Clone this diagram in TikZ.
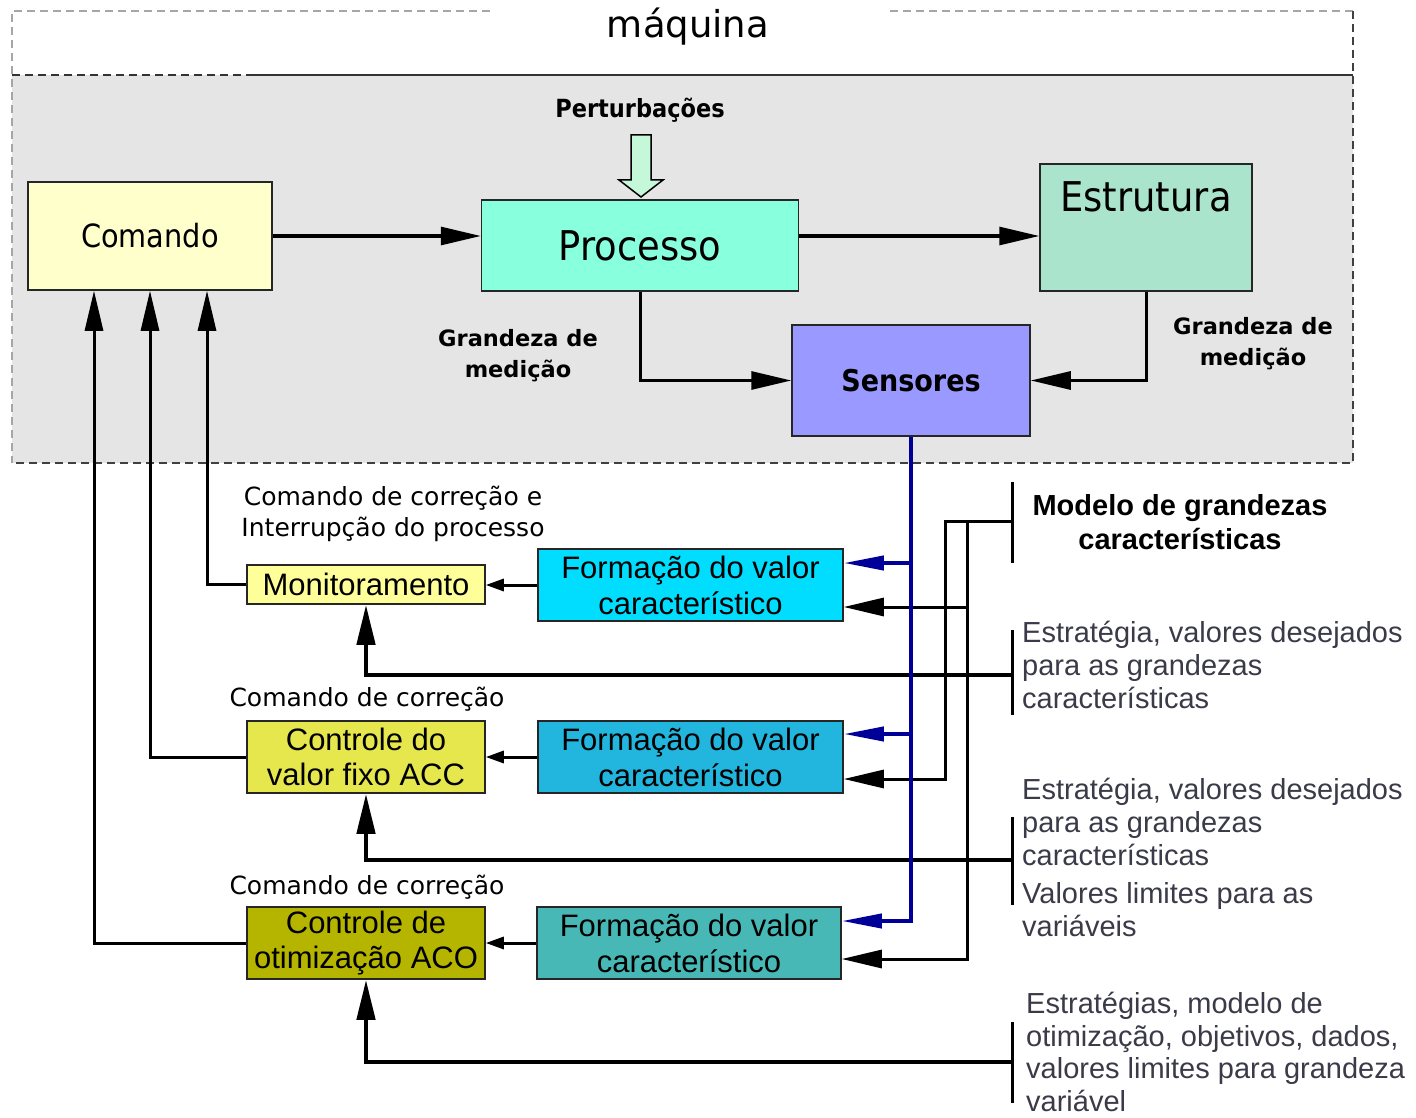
\documentclass[tikz,border=0pt]{standalone}
\usepackage{fontspec}
\setmainfont{DejaVu Sans}
\newfontfamily\condfont{DejaVu Sans Condensed}
\newfontfamily\arialfont{Liberation Sans}
\usetikzlibrary{arrows.meta}

\definecolor{cmdfill}{HTML}{FFFFCC}
\definecolor{procfill}{HTML}{88FFDD}
\definecolor{estrfill}{HTML}{AAE4CC}
\definecolor{sensfill}{HTML}{9999FF}
\definecolor{monfill}{HTML}{FFFF99}
\definecolor{accfill}{HTML}{E6E64D}
\definecolor{acofill}{HTML}{B5B500}
\definecolor{fvAfill}{HTML}{00DDFF}
\definecolor{fvBfill}{HTML}{22B5DD}
\definecolor{fvCfill}{HTML}{47B8B6}
\definecolor{pertfill}{HTML}{C4F8D8}
\definecolor{busblue}{HTML}{000099}
\definecolor{notegray}{HTML}{3A3A48}

\begin{document}
\begin{tikzpicture}[x=1pt,y=-1pt,
  box/.style={draw=black!85,line width=1.5pt,inner sep=0pt,align=center},
  lowbox/.style={box,minimum width=238pt,minimum height=72pt,font=\arialfont\fontsize{31}{35}\selectfont},
  fvbox/.style={box,minimum width=305pt,minimum height=72pt,font=\arialfont\fontsize{31}{36}\selectfont},
  frame/.style={line width=1.3pt,dash pattern=on 8pt off 5pt},
  mainarrow/.style={line width=3pt,-{Triangle[length=40pt,width=18pt]}},
  fatarrow/.style={line width=4.5pt,-{Triangle[length=40pt,width=18pt]}},
  shortarrow/.style={line width=3pt,-{Triangle[length=18pt,width=12pt]}},
  busline/.style={line width=4pt,busblue,-{Triangle[length=40pt,width=14pt]}},
  bar/.style={line width=3pt},
  measlbl/.style={font=\bfseries\fontsize{22.5}{31}\selectfont,align=center},
  corrlbl/.style={font=\fontsize{25}{31}\selectfont,align=center},
  note/.style={anchor=north west,inner sep=0pt,align=left,text=notegray,font=\arialfont\fontsize{29}{33}\selectfont}]
  \useasboundingbox (0,0) rectangle (1416,1118);

  % machine frame
  \fill[gray!20] (12,75) rectangle (1353,463);
  \draw[frame,gray!70] (490,11) -- (12,11) -- (12,463);
  \draw[frame,gray!70] (890,11) -- (1353,11);
  \draw[frame,black!75] (1353,11) -- (1353,463) -- (12,463);
  \draw[frame,black!80] (12,75) -- (250,75);
  \draw[line width=1.5pt,black!80] (250,75) -- (1353,75);
  \node[font=\fontsize{37}{44}\selectfont] (title) at (688,27) {máquina};

  % upper loop
  \node[box,fill=cmdfill,minimum width=244pt,minimum height=108pt,
        font=\condfont\fontsize{32}{38}\selectfont] (cmd) at (150,236) {Comando};
  \node[box,fill=procfill,minimum width=317pt,minimum height=91pt,
        font=\condfont\fontsize{41}{48}\selectfont] (proc) at (640,245.5) {Processo};
  \node[box,fill=estrfill,minimum width=212pt,minimum height=127pt,
        label={[anchor=north,inner sep=0pt,yshift=-18pt,font=\condfont\fontsize{41}{48}\selectfont]north:Estrutura}] (estr) at (1146,227.5) {};
  \node[box,fill=sensfill,minimum width=238pt,minimum height=111pt,
        font=\condfont\bfseries\fontsize{30}{36}\selectfont] (sens) at (911,380.5) {Sensores};

  \node[font=\condfont\bfseries\fontsize{25}{30}\selectfont] (pert) at (640,110) {Perturbações};
  \draw[line width=1.5pt,fill=pertfill] (631,135) -- (651,135) -- (651,180) -- (663,180)
     -- (641,197) -- (619,180) -- (631,180) -- cycle;
  \node[measlbl] (gm1) at (518,356) {Grandeza de\\medição};
  \node[measlbl] (gm2) at (1253,344) {Grandeza de\\medição};

  \draw[mainarrow] (cmd.east) -- (cmd.east -| proc.west);
  \draw[mainarrow] (proc.east |- cmd.east) -- (cmd.east -| estr.west);
  \draw[mainarrow] (proc.south) |- (sens.west);
  \draw[mainarrow] (estr.south) |- (sens.east);

  % lower control levels
  \node[box,fill=monfill,minimum width=238pt,minimum height=39pt,
        font=\arialfont\fontsize{31}{35}\selectfont] (mon) at (366,584.5) {Monitoramento};
  \node[fvbox,fill=fvAfill] (fv1) at (690.5,585) {Formação do valor\\característico};
  \node[lowbox,fill=accfill] (acc) at (366,757) {Controle do\\valor fixo ACC};
  \node[fvbox,fill=fvBfill] (fv2) at (690.5,757) {Formação do valor\\característico};
  \node[lowbox,fill=acofill] (aco) at (366,943) {Controle de\\otimização ACO};
  \node[fvbox,fill=fvCfill,minimum width=304pt] (fv3) at (689,943) {Formação do valor\\característico};

  \node[corrlbl] (cl1) at (393,514) {Comando de correção e\\Interrupção do processo};
  \node[corrlbl] (cl2) at (367,699) {Comando de correção};
  \node[corrlbl] (cl3) at (367,887) {Comando de correção};

  \draw[shortarrow] (fv1.west) -- (fv1.west -| mon.east);
  \draw[shortarrow] (fv2.west) -- (fv2.west -| acc.east);
  \draw[shortarrow] (fv3.west) -- (fv3.west -| aco.east);

  % feedback to Comando
  \draw[mainarrow] (mon.west) -| ([xshift=57pt]cmd.south);
  \draw[mainarrow] (acc.west) -| (cmd.south);
  \draw[mainarrow] (aco.west) -| ([xshift=-56pt]cmd.south);

  % inputs of the value blocks
  \coordinate (in1) at ([yshift=22pt]fv1.east);
  \coordinate (ref1) at ([yshift=-22pt]fv1.east);
  \coordinate (in2) at ([yshift=23pt]fv2.east);
  \coordinate (ref2) at ([yshift=-22pt]fv2.east);
  \coordinate (in3) at ([yshift=22pt]fv3.east);
  \coordinate (ref3) at ([yshift=-16pt]fv3.east);

  % model of characteristic quantities
  \draw[bar] (1012,482) -- (1012,563);
  \coordinate (mdl) at (1012,521);
  \coordinate (jA) at (945,521);
  \coordinate (jB) at (967,521);
  \draw[mainarrow] (mdl) -- (jA) |- (ref2);
  \draw[mainarrow] (jB) |- (ref3);
  \draw[mainarrow] (jB |- ref1) -- (ref1);
  \node[font=\arialfont\bfseries\fontsize{29}{34}\selectfont,align=center] (mdltxt) at (1180,522)
    {Modelo de grandezas\\características};

  % strategies and set values
  \draw[bar] (1012,630) -- (1012,715);
  \coordinate (st1) at (1012,675);
  \draw[fatarrow] (st1) -| (mon.south);
  \draw[bar] (1012,817) -- (1012,905);
  \coordinate (st2) at (1012,860);
  \draw[fatarrow] (st2) -| (acc.south);
  \draw[bar] (1012,1022) -- (1012,1103);
  \coordinate (st3) at (1012,1062);
  \draw[fatarrow] (st3) -| (aco.south);

  \node[note] (n1) at (1022,621) {Estratégia, valores desejados\\para as grandezas\\características};
  \node[note] (n2) at (1022,778) {Estratégia, valores desejados\\para as grandezas\\características};
  \node[note] (n3) at (1022,882) {Valores limites para as\\variáveis};
  \node[note,font=\arialfont\fontsize{29}{32.5}\selectfont] (n4) at (1026,992) {Estratégias, modelo de\\otimização, objetivos, dados,\\valores limites para grandeza\\variável};

  % sensor bus
  \draw[busline] (sens.south) |- (in3);
  \draw[busline] (in1 -| sens.south) -- (in1);
  \draw[busline] (in2 -| sens.south) -- (in2);
\end{tikzpicture}
\end{document}
